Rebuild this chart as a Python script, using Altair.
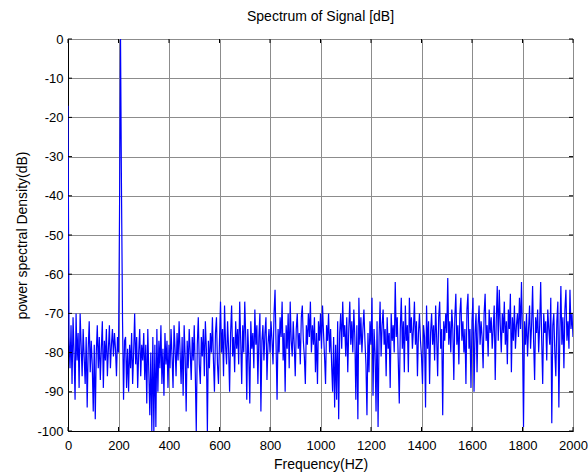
import altair as alt
import pandas as pd

# Frequency spacing of the spectrum samples (Hz)
step_hz = 4

# Power spectral density (dB) (4 Hz apart)
band_0000 = [-17, -76, -84, -73, -88, -71, -80, -92, -70, -82, -75, -89, -70, -78, -86, -74, -81, -88, -76, -94,
             -79, -72, -85, -77, -83, -95, -78, -97, -80, -73, -84, -76, -87, -79, -72, -89, -77, -82, -74, -86,
             -79, -73, -84, -78, -74, -81, -75, -79, -86, -76]
band_0200 = [-80, -45, 0, -40, -72, -92, -77, -76, -89, -79, -90, -78, -84, -75, -88, -80, -70, -83, -76, -89,
             -80, -74, -86, -78, -82, -75, -87, -78, -93, -74, -85, -96, -80, -100, -76, -100, -78, -99, -74, -90,
             -77, -84, -73, -88, -79, -91, -75, -83, -77, -89]
band_0400 = [-78, -84, -74, -81, -89, -73, -79, -86, -75, -82, -72, -80, -88, -76, -91, -73, -81, -95, -77, -84,
             -74, -80, -87, -76, -82, -73, -85, -100, -78, -71, -83, -88, -76, -81, -74, -86, -72, -79, -100, -77,
             -84, -75, -80, -71, -82, -90, -75, -71, -83, -88]
band_0600 = [-77, -67, -80, -74, -86, -68, -78, -83, -72, -79, -90, -75, -68, -81, -76, -85, -72, -79, -74, -83,
             -67, -77, -88, -73, -80, -67, -76, -92, -74, -81, -93, -72, -79, -75, -84, -69, -78, -73, -88, -76,
             -70, -95, -77, -73, -82, -75, -71, -87, -78, -74]
band_0800 = [-80, -72, -77, -83, -70, -64, -78, -92, -74, -80, -71, -76, -67, -82, -75, -90, -73, -79, -70, -84,
             -67, -77, -81, -72, -78, -86, -74, -70, -79, -75, -83, -71, -68, -77, -81, -88, -73, -78, -70, -76,
             -67, -80, -73, -78, -71, -85, -75, -88, -72, -77]
band_1000 = [-70, -79, -68, -75, -81, -88, -73, -77, -70, -80, -74, -83, -90, -76, -94, -78, -92, -72, -97, -75,
             -70, -79, -67, -76, -73, -81, -71, -85, -74, -67, -78, -72, -80, -69, -76, -92, -73, -97, -66, -78,
             -71, -80, -74, -69, -77, -83, -96, -75, -85, -72]
band_1200 = [-78, -66, -91, -74, -80, -95, -72, -99, -76, -67, -81, -73, -69, -78, -74, -86, -71, -79, -75, -89,
             -70, -77, -73, -80, -62, -76, -71, -82, -93, -74, -66, -79, -72, -85, -68, -77, -73, -85, -66, -75,
             -71, -79, -74, -67, -78, -72, -86, -75, -70, -77]
band_1400 = [-81, -88, -73, -76, -94, -68, -79, -72, -88, -75, -70, -78, -73, -82, -68, -76, -86, -71, -67, -79,
             -74, -96, -72, -77, -70, -75, -61, -78, -72, -80, -69, -74, -87, -71, -65, -78, -73, -83, -70, -66,
             -77, -72, -80, -74, -88, -69, -65, -79, -74, -89]
band_1600 = [-72, -66, -90, -75, -70, -85, -73, -68, -78, -72, -76, -84, -70, -65, -77, -73, -81, -69, -75, -71,
             -79, -74, -68, -87, -72, -63, -77, -64, -73, -80, -70, -75, -67, -78, -72, -83, -69, -74, -65, -85,
             -71, -77, -68, -79, -73, -70, -76, -66, -74, -62]
band_1800 = [-76, -99, -72, -78, -70, -81, -74, -68, -79, -73, -63, -77, -87, -71, -75, -69, -80, -73, -62, -77,
             -88, -70, -75, -72, -82, -69, -74, -78, -66, -98, -73, -70, -80, -86, -72, -67, -94, -75, -63, -78,
             -71, -84, -69, -64, -77, -72, -79, -64, -74, -70, -76]

x_ticks = [0, 200, 400, 600, 800, 1000, 1200, 1400, 1600, 1800, 2000]
y_ticks = [0, -10, -20, -30, -40, -50, -60, -70, -80, -90, -100]

values = (band_0000 + band_0200 + band_0400 + band_0600 + band_0800 +
          band_1000 + band_1200 + band_1400 + band_1600 + band_1800)
freqs = [i * step_hz for i in range(len(values))]
df = pd.DataFrame({"Frequency": freqs, "dB": values})
xt = pd.DataFrame({"Frequency": x_ticks})
yt = pd.DataFrame({"dB": y_ticks})

W, H = 505, 392
FONT = "Liberation Sans"

xs = alt.Scale(domain=[0, 2000], nice=False, zero=False)
ys = alt.Scale(domain=[-100, 0], nice=False, zero=False)

x_axis = alt.Axis(values=x_ticks, title="Frequency(HZ)", labelPadding=8, titlePadding=5,
                  labelExpr="'' + datum.value", labelFlush=False, labelOverlap=False)
y_axis = alt.Axis(values=y_ticks, title="power spectral Density(dB)", labelPadding=5,
                  titlePadding=7, labelExpr="'' + datum.value", labelOverlap=False)

line = alt.Chart(df).mark_line(color="#0000ff", strokeWidth=1.2, clip=True).encode(
    x=alt.X("Frequency:Q", scale=xs, axis=x_axis),
    y=alt.Y("dB:Q", scale=ys, axis=y_axis),
)

tick_color = "#000000"
bottom_ticks = alt.Chart(xt).mark_rule(color=tick_color, strokeWidth=1).encode(
    x=alt.X("Frequency:Q", scale=xs, axis=x_axis), y=alt.value(H), y2=alt.value(H - 4))
top_ticks = alt.Chart(xt).mark_rule(color=tick_color, strokeWidth=1).encode(
    x=alt.X("Frequency:Q", scale=xs, axis=x_axis), y=alt.value(0), y2=alt.value(4))
left_ticks = alt.Chart(yt).mark_rule(color=tick_color, strokeWidth=1).encode(
    y=alt.Y("dB:Q", scale=ys, axis=y_axis), x=alt.value(0), x2=alt.value(4))
right_ticks = alt.Chart(yt).mark_rule(color=tick_color, strokeWidth=1).encode(
    y=alt.Y("dB:Q", scale=ys, axis=y_axis), x=alt.value(W), x2=alt.value(W - 4))

chart = alt.layer(line, bottom_ticks, top_ticks, left_ticks, right_ticks).properties(
    width=W, height=H, background="white",
    title=alt.TitleParams("Spectrum of Signal [dB]", font=FONT, fontSize=14, fontWeight="normal",
                          color="black", anchor="middle", baseline="bottom", offset=15, dy=20),
    autosize=alt.AutoSizeParams(type="none"),
    padding={"left": 68, "top": 39, "right": 15, "bottom": 43},
).configure_view(
    stroke="#8a8a8a", strokeWidth=1
).configure_axis(
    domainColor="black", domainWidth=1, ticks=False,
    grid=True, gridColor="#8c8c8c", gridWidth=1, gridOpacity=1,
    labelFont=FONT, labelFontSize=13, labelColor="black",
    titleFont=FONT, titleFontSize=14, titleFontWeight="normal", titleColor="black",
)

chart.save("out.html", embed_options={"renderer": "svg", "actions": False})
